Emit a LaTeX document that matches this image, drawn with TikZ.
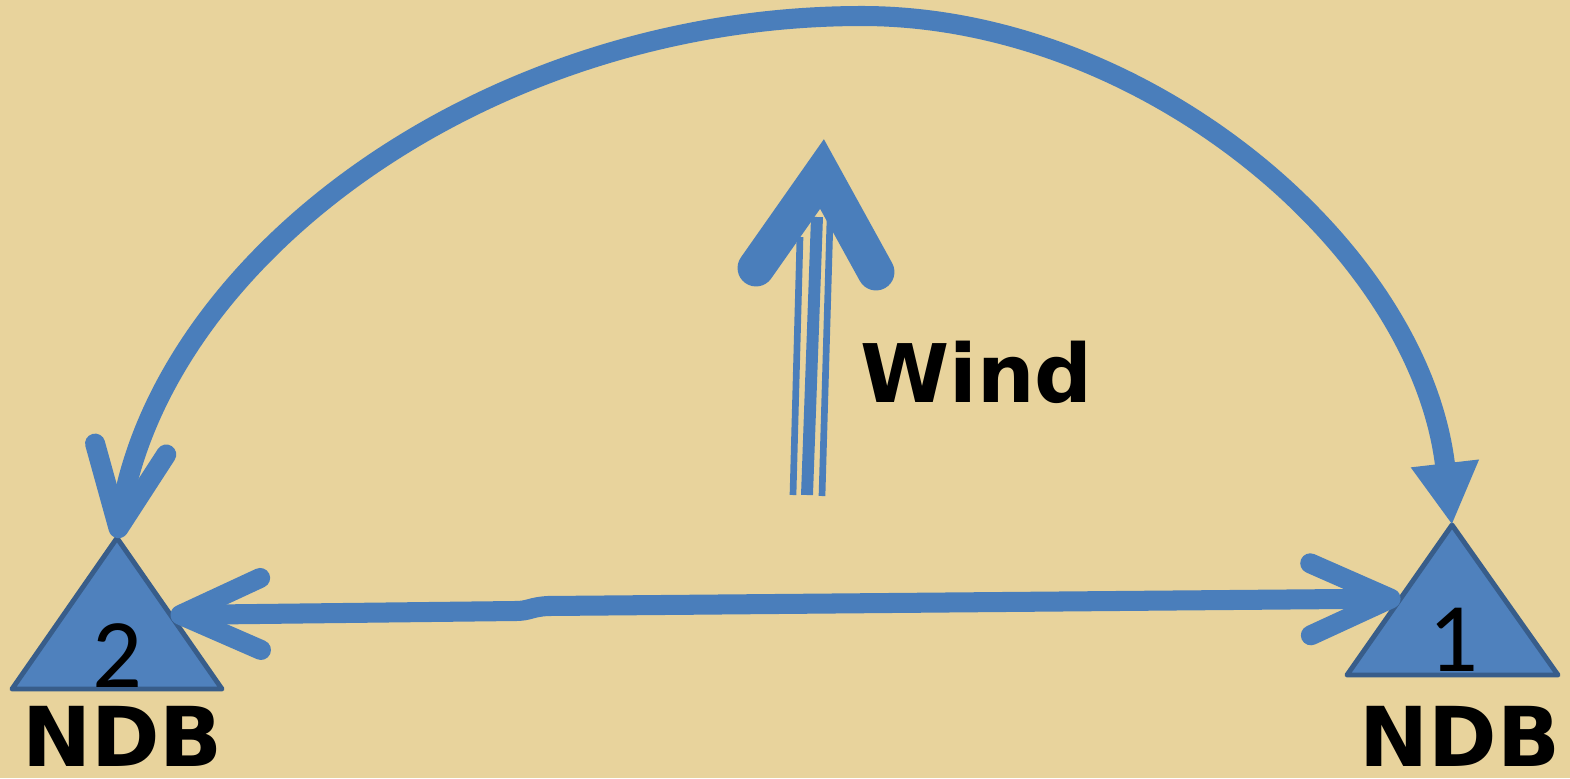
\documentclass[tikz,border=0pt]{standalone}
\usepackage{fontspec}
\setmainfont{Carlito}
\newfontfamily\ndbfont{DejaVu Sans}
\usepackage{xcolor}
\definecolor{papyrus}{HTML}{E8D39C}
\definecolor{ndbBlue}{HTML}{4F81BD}
\definecolor{ndbEdge}{HTML}{385D8A}
\definecolor{arrowBlue}{HTML}{4A7EBB}
\usepackage{tikz}
\usetikzlibrary{arrows.meta,calc}

\begin{document}
\begin{tikzpicture}[
    barbtip/.tip={Straight Barb[length=8mm, width=7.2mm, line width=5.7pt, round]},
    filltip/.tip={Triangle[length=6.2mm, width=6.4mm]},
    course/.style={draw=arrowBlue, line width=5.7pt},
    beacon/.style={fill=ndbBlue, draw=ndbEdge, line width=1.4pt, line join=round},
    beaconnum/.style={anchor=base, font=\fontsize{28}{28}\selectfont},
    beaconname/.style={anchor=base, inner sep=0pt, font=\ndbfont\bfseries\fontsize{23.5}{23.5}\selectfont},
    windlabel/.style={anchor=base west, font=\ndbfont\bfseries\fontsize{23}{23}\selectfont}]
  \fill[papyrus] (0,0) rectangle (15.70,7.78);
  \useasboundingbox (0,0) rectangle (15.70,7.78);
  % ---- the two beacons ----
  \coordinate (ndb2apex) at (1.17,2.40);
  \coordinate (ndb2left) at (0.12,0.89);
  \coordinate (ndb2right) at (2.22,0.89);
  \coordinate (ndb1apex) at (14.52,2.53);
  \coordinate (ndb1left) at (13.47,1.03);
  \coordinate (ndb1right) at (15.58,1.03);
  \draw[beacon] (ndb2apex) -- (ndb2right) -- (ndb2left) -- cycle;
  \draw[beacon] (ndb1apex) -- (ndb1right) -- (ndb1left) -- cycle;
  \node[beaconnum] (num2) at (1.175,0.91) {2};
  \node[beaconnum] (num1) at (14.53,1.07) {1};
  \node[beaconname] (ndb2) at (1.225,0.12) {NDB};
  \node[beaconname] (ndb1) at (14.60,0.12) {NDB};
  % ---- long way round, over the top ----
  \draw[course, barbtip-filltip] (ndb2apex)
    .. controls (1.60,5.20) and (4.85,7.62) .. (8.62,7.62)
    .. controls (11.45,7.62) and (14.20,5.30) .. (ndb1apex);
  % ---- direct track between the beacons ----
  \coordinate (h2) at ($(ndb2apex)!0.51!(ndb2right)$);
  \coordinate (h1) at ($(ndb1apex)!0.49!(ndb1left)$);
  \draw[course, barbtip-barbtip] (h2) -- (5.15,1.67)
    .. controls (5.30,1.67) and (5.30,1.71) .. (5.48,1.72) -- (h1);
  % ---- wind ----
  \draw[arrowBlue, line width=1.9pt] (7.93,2.83) -- (8.00,5.41);
  \draw[arrowBlue, line width=3.4pt] (8.07,2.83) -- (8.17,5.61);
  \draw[arrowBlue, line width=1.9pt] (8.22,2.82) -- (8.30,5.58);
  \coordinate (windtip) at (8.22,6.04);
  \draw[arrowBlue, line width=10.5pt, line cap=round, line join=miter]
    (7.56,5.10) -- (windtip) -- (8.76,5.06);
  \node[windlabel] (wind) at (8.48,3.76) {Wind};
\end{tikzpicture}
\end{document}
